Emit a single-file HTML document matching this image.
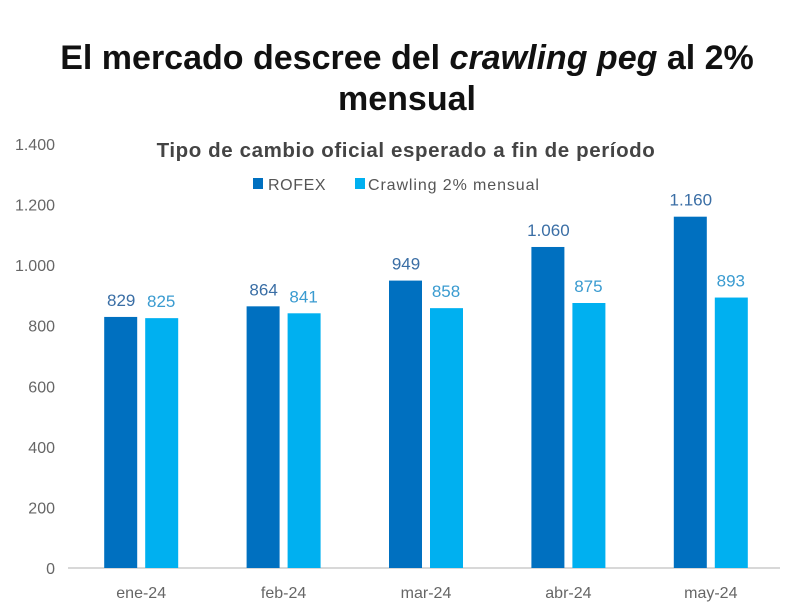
<!DOCTYPE html>
<html><head><meta charset="utf-8"><style>
body{margin:0;background:#fff;width:800px;height:609px;overflow:hidden;font-family:"Liberation Sans",sans-serif;}
svg text{font-family:"Liberation Sans",sans-serif;}
</style></head><body>
<svg width="800" height="609">
<text x="407" y="69" text-anchor="middle" font-size="34" font-weight="bold" fill="#111">El mercado descree del <tspan font-style="italic">crawling peg</tspan> al 2%</text>
<text x="407" y="110" text-anchor="middle" font-size="34" font-weight="bold" fill="#111">mensual</text>
<text x="406" y="157" text-anchor="middle" font-size="20.5" font-weight="bold" fill="#444" letter-spacing="0.6">Tipo de cambio oficial esperado a fin de período</text>
<g>
<rect x="253" y="178" width="10" height="11" fill="#0070C0"/>
<text x="268" y="190" font-size="16" letter-spacing="0.6" fill="#555">ROFEX</text>
<rect x="355" y="178" width="10" height="11" fill="#00B0F0"/>
<text x="368" y="190" font-size="16" letter-spacing="0.9" fill="#555">Crawling 2% mensual</text>
</g>
<g id="plot"></g>
</svg>
<script>
const categories=["ene-24","feb-24","mar-24","abr-24","may-24"];
const rofex=[829,864,949,1060,1160];
const crawling=[825,841,858,875,893];
const rofexLabels=["829","864","949","1.060","1.160"];
const crawlLabels=["825","841","858","875","893"];
const ticks=[0,200,400,600,800,1000,1200,1400];
const tickLabels=["0","200","400","600","800","1.000","1.200","1.400"];
const NS="http://www.w3.org/2000/svg";
const g=document.getElementById('plot');
const y0=568,pxPer=424/1400;
const y=v=>y0-v*pxPer;
const x0=70,step=142.4;
const xc=i=>x0+step*(i+0.5);
function mk(t,a,txt){const e=document.createElementNS(NS,t);for(const k in a)e.setAttribute(k,a[k]);if(txt!=null)e.textContent=txt;g.appendChild(e);return e;}
ticks.forEach((t,i)=>{const e=mk('text',{x:55,y:y(t)+6,'text-anchor':'end','font-size':16,fill:'#666'},tickLabels[i]);

});
const ax=mk('line',{x1:68,x2:780,y1:y0,y2:y0,stroke:'#ccc','stroke-width':1.5});


categories.forEach((c,i)=>{
const cx=xc(i);
const b1=mk('rect',{x:cx-37,y:y(rofex[i]),width:33,height:y0-y(rofex[i]),fill:'#0070C0'});


const b2=mk('rect',{x:cx+4,y:y(crawling[i]),width:33,height:y0-y(crawling[i]),fill:'#00B0F0'});


const l1=mk('text',{x:cx-20,y:y(rofex[i])-11,'text-anchor':'middle','font-size':17,fill:'#3a6ea5'},rofexLabels[i]);


const l2=mk('text',{x:cx+20,y:y(crawling[i])-11,'text-anchor':'middle','font-size':17,fill:'#3a9bd0'},crawlLabels[i]);


const xl=mk('text',{x:cx,y:598,'text-anchor':'middle','font-size':16,fill:'#666'},c);


});
</script>
</body></html>
